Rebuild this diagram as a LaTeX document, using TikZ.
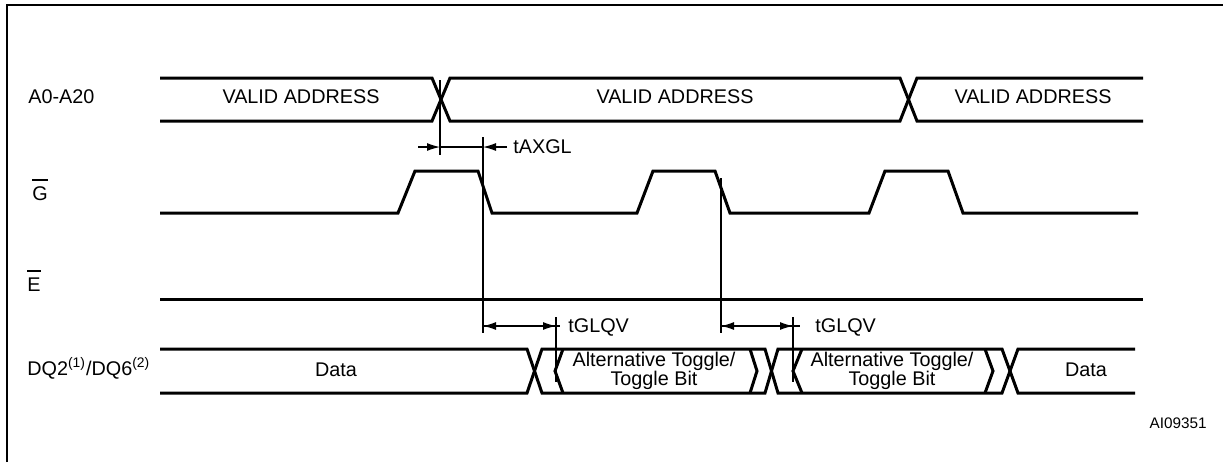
\documentclass[tikz,border=0pt]{standalone}
\usepackage{fontspec}
\setmainfont{Liberation Sans}
\usetikzlibrary{arrows.meta}

% active-low signal name with a raised bar
\newcommand{\actlow}[1]{\setbox0\hbox{#1}\rlap{\rule[\dimexpr\ht0+2.8pt\relax]{\wd0}{0.8pt}}\box0}

\begin{document}
\begin{tikzpicture}[x=0.5pt,y=-0.5pt,
  sig/.style={line width=1.5pt},
  dim/.style={line width=0.6pt},
  tip/.style={-{Latex[length=6.5pt,width=4pt]}},
  lbl/.style={inner sep=0pt,font=\fontsize{9.9}{10}\selectfont},
  twoline/.style={lbl,align=center}]
\useasboundingbox (0,0) rectangle (1223,462);

\draw[line width=1pt] (7,462)--(7,5)--(1223,5);

% signal names
\node (nA) at (28,103) [lbl,anchor=base west] {A0-A20};
\node (nG) at (32,200) [lbl,anchor=base west] {\actlow{G}};
\node (nE) at (27,291) [lbl,anchor=base west] {\actlow{E}};
\node (nDQ) at (27,375) [lbl,anchor=base west] {DQ2\textsuperscript{(1)}/DQ6\textsuperscript{(2)}};

% address bus
\draw[sig] (160,78)--(432,78)--(450,121)--(900,121)--(917,78)--(1143,78);
\draw[sig] (160,121)--(432,121)--(450,78)--(900,78)--(917,121)--(1143,121);

\node (va1) at (301,103) [lbl,anchor=base] {VALID ADDRESS};
\node (va2) at (675,103) [lbl,anchor=base] {VALID ADDRESS};
\node (va3) at (1033,103) [lbl,anchor=base] {VALID ADDRESS};

% output enable
\draw[sig] (160,213)--(398,213)--(415,171)--(478,171)--(492,213)
  --(637,213)--(653,171)--(715,171)--(730,213)
  --(869,213)--(885,171)--(948,171)--(963,213)--(1138,213);

% chip enable
\draw[sig] (160,299)--(1143,299);

% data bus
\draw[sig] (160,349)--(527,349)--(542,393)--(765,393)--(778,349)--(1002,349)--(1018,393)--(1135,393);
\draw[sig] (160,393)--(527,393)--(542,349)--(765,349)--(778,393)--(1002,393)--(1018,349)--(1135,349);
\draw[sig] (563,349)--(555,371)--(563,393);
\draw[sig] (750,349)--(757,371)--(750,393);
\draw[sig] (802,349)--(793,371)--(802,393);
\draw[sig] (985,349)--(993,371)--(985,393);

\node (d1) at (336,376) [lbl,anchor=base] {Data};
\node (tb1) at (654,371) [twoline] {Alternative Toggle/\\[-0.5pt]Toggle Bit};
\node (tb2) at (892,371) [twoline] {Alternative Toggle/\\[-0.5pt]Toggle Bit};
\node (d2) at (1086,376) [lbl,anchor=base] {Data};

% tAXGL
\coordinate (ax) at (440,147);
\coordinate (gl) at (483,147);
\draw[dim] (440,80)--(440,155);
\draw[dim] (483,137)--(483,333);
\draw[dim,tip] (418,147)--(ax);
\draw[dim] (ax)--(gl);
\draw[dim,tip] (507,147)--(gl);
\node (tax) at (513,153) [lbl,anchor=base west] {tAXGL};

% tGLQV
\coordinate (g1) at (483,326);
\coordinate (q1) at (556,326);
\coordinate (g2) at (721,326);
\coordinate (q2) at (793,326);
\draw[dim] (721,178)--(721,333);
\draw[dim] (556,317)--(556,382);
\draw[dim] (793,317)--(793,382);
\draw[dim,tip] (q1)--(g1);
\draw[dim,tip] (g1)--(q1);
\draw[dim] (q1)--++(4,0);
\draw[dim,tip] (q2)--(g2);
\draw[dim,tip] (g2)--(q2);
\draw[dim] (q2)--++(7,0);
\node (tq1) at (568,332) [lbl,anchor=base west] {tGLQV};
\node (tq2) at (815,332) [lbl,anchor=base west] {tGLQV};

\node (ai) at (1207,428) [lbl,anchor=base east,font=\fontsize{7.65}{8}\selectfont] {AI09351};

\end{tikzpicture}
\end{document}
